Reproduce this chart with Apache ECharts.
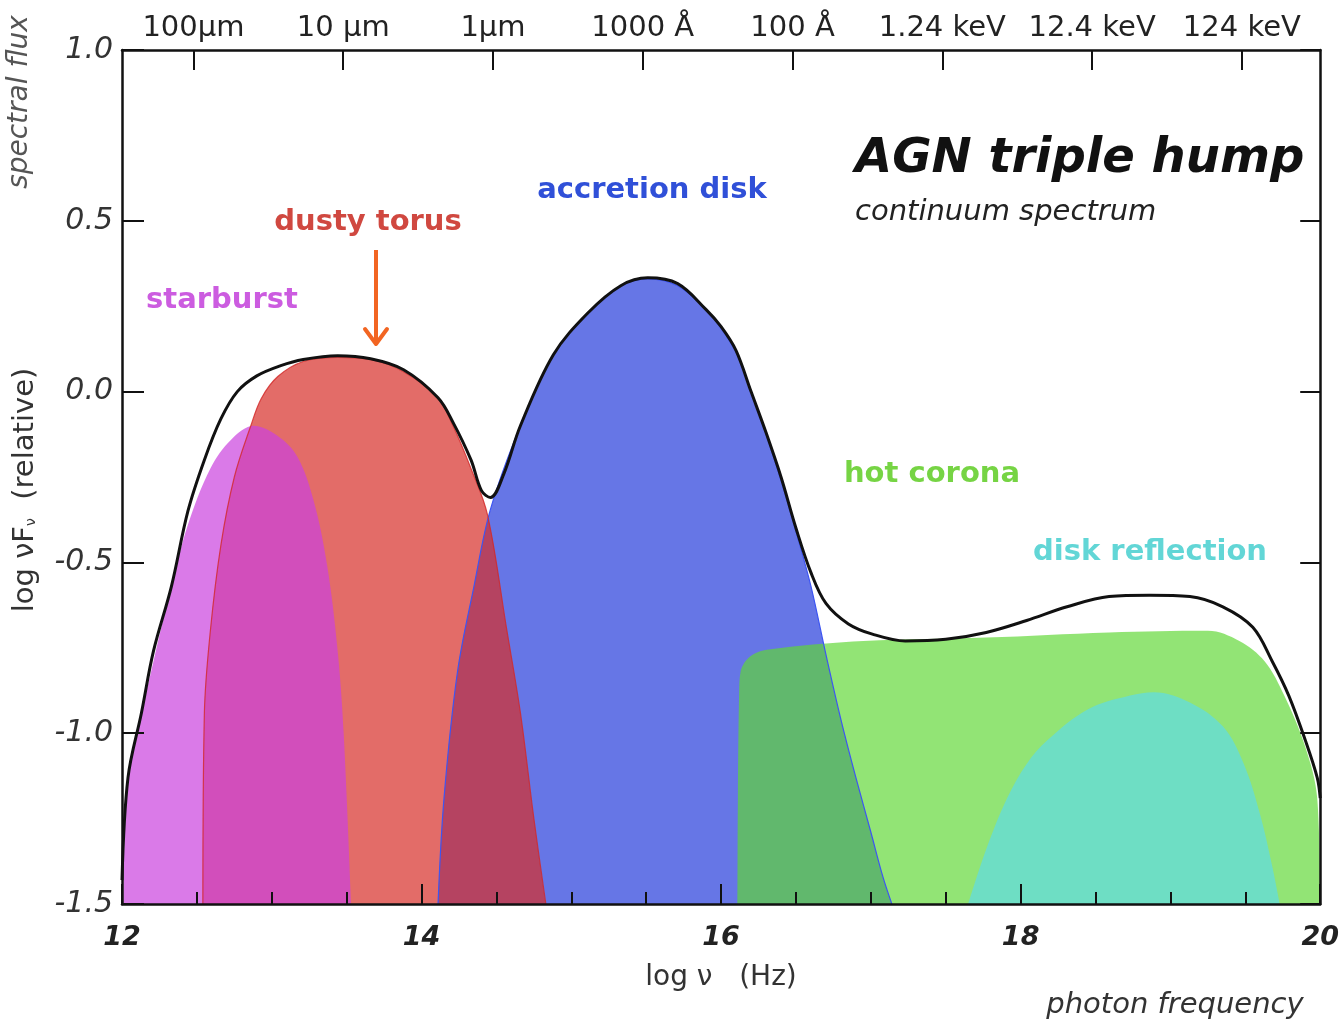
<!DOCTYPE html>
<html>
<head>
<meta charset="utf-8">
<title>AGN triple hump</title>
<script src="https://cdn.jsdelivr.net/npm/echarts@6/dist/echarts.min.js"></script>
<style>
  html, body { margin: 0; padding: 0; background: #fff; }
  #main { width: 1342px; height: 1023px; }
</style>
</head>
<body>
<div id="main"></div>
<script>
// components of the AGN spectrum (log nu, log nuFnu)
var starburstX = [12.01, 12.04, 12.21, 12.33, 12.44, 12.59, 12.73, 12.88, 13.04, 13.17, 13.28, 13.37, 13.44, 13.48, 13.53];
var starburstY = [-1.5, -1.14, -0.79, -0.57, -0.39, -0.225, -0.14, -0.10, -0.13, -0.19, -0.32, -0.51, -0.76, -1.0, -1.5];

var torusX = [12.54, 12.55, 12.59, 12.66, 12.75, 12.86, 12.93, 13.04, 13.21, 13.44, 13.66, 13.88, 14.11, 14.21, 14.33, 14.44, 14.57, 14.66, 14.75, 14.83];
var torusY = [-1.5, -0.94, -0.70, -0.45, -0.25, -0.10, -0.02, 0.044, 0.088, 0.10, 0.094, 0.058, -0.018, -0.10, -0.225, -0.36, -0.70, -0.94, -1.25, -1.5];

var diskX = [14.11, 14.15, 14.24, 14.35, 14.46, 14.66, 14.88, 15.11, 15.33, 15.51, 15.71, 15.9, 16.0, 16.1, 16.2, 16.3, 16.4, 16.5, 16.6, 16.7, 16.8, 16.9, 17.0, 17.08, 17.14];
var diskY = [-1.5, -1.19, -0.82, -0.57, -0.345, -0.10, 0.108, 0.23, 0.31, 0.33, 0.31, 0.24, 0.185, 0.115, 0.0, -0.125, -0.26, -0.41, -0.57, -0.77, -0.96, -1.13, -1.29, -1.42, -1.5];

var coronaX = [16.11, 16.112, 16.12, 16.13, 16.21, 16.41, 16.95, 17.77, 18.59, 19.25, 19.46, 19.63, 19.76, 19.90, 19.98, 20.0];
var coronaY = [-1.5, -1.19, -0.89, -0.82, -0.77, -0.75, -0.73, -0.72, -0.705, -0.70, -0.73, -0.79, -0.89, -1.04, -1.19, -1.5];

var reflectX = [17.65, 17.77, 17.91, 18.04, 18.18, 18.45, 18.73, 18.89, 19.13, 19.35, 19.49, 19.60, 19.68, 19.73];
var reflectY = [-1.5, -1.34, -1.19, -1.09, -1.02, -0.93, -0.89, -0.88, -0.91, -0.98, -1.09, -1.24, -1.39, -1.5];

var totalX = [12.0, 12.04, 12.13, 12.21, 12.33, 12.44, 12.55, 12.66, 12.77, 12.9, 13.06, 13.21, 13.44, 13.66, 13.88, 14.11, 14.21, 14.33, 14.40, 14.46, 14.55, 14.66, 14.88, 15.11, 15.33, 15.51, 15.71, 15.9, 16.0, 16.1, 16.2, 16.3, 16.4, 16.5, 16.6, 16.7, 16.85, 17.01, 17.23, 17.50, 17.77, 18.04, 18.31, 18.59, 18.86, 19.13, 19.35, 19.55, 19.68, 19.79, 19.90, 19.98, 20.0];
var totalY = [-1.43, -1.13, -0.94, -0.76, -0.57, -0.35, -0.20, -0.08, 0.0, 0.046, 0.076, 0.094, 0.105, 0.096, 0.064, -0.018, -0.09, -0.20, -0.29, -0.31, -0.24, -0.10, 0.108, 0.23, 0.31, 0.333, 0.316, 0.24, 0.19, 0.12, 0.0, -0.12, -0.25, -0.40, -0.53, -0.62, -0.68, -0.71, -0.73, -0.725, -0.705, -0.67, -0.63, -0.60, -0.596, -0.60, -0.63, -0.69, -0.79, -0.89, -1.02, -1.13, -1.19];

// wavelength / energy scale along the top
var topTickVals = [12.477, 13.477, 14.477, 15.477, 16.477, 17.477, 18.477, 19.477];
var topTickLabels = ['100\u00b5m', '10 \u00b5m', '1\u00b5m', '1000 \u00c5', '100 \u00c5', '1.24 keV', '12.4 keV', '124 keV'];

function pairs(xs, ys) {
  var out = [];
  for (var i = 0; i < xs.length; i++) out.push([xs[i], ys[i]]);
  return out;
}

var font = '"DejaVu Sans", Verdana, sans-serif';

function band(name, xs, ys, fill, edge) {
  return {
    name: name,
    type: 'line',
    data: pairs(xs, ys),
    smooth: 0.35,
    symbol: 'none',
    silent: true,
    lineStyle: { width: edge ? 1.2 : 0, color: edge || fill },
    areaStyle: { color: fill, opacity: 1, origin: 'start' }
  };
}

var chart = echarts.init(document.getElementById('main'));

var option = {
  backgroundColor: '#ffffff',
  animation: false,
  grid: { left: 122, right: 19, top: 50, bottom: 119 },
  xAxis: [{
    type: 'value',
    zlevel: 1,
    min: 12, max: 20, interval: 2,
    axisLine: { onZero: false, lineStyle: { color: '#111', width: 2.5 } },
    axisTick: { inside: true, length: 20, lineStyle: { color: '#111', width: 2 } },
    minorTick: { show: true, splitNumber: 4, length: 12, lineStyle: { color: '#111', width: 2 } },
    splitLine: { show: false },
    axisLabel: { color: '#222', fontSize: 27, fontWeight: 'bold', fontStyle: 'italic', fontFamily: font, margin: 20 }
  }, {
    type: 'value',
    position: 'top',
    zlevel: 1,
    min: 12, max: 20,
    axisLine: { onZero: false, lineStyle: { color: '#111', width: 2.5 } },
    axisTick: { inside: true, length: 20, customValues: topTickVals, lineStyle: { color: '#111', width: 2 } },
    splitLine: { show: false },
    axisLabel: {
      customValues: topTickVals,
      color: '#222', fontSize: 29, fontFamily: font, margin: 7,
      formatter: function (v) {
        var i = topTickVals.indexOf(v);
        return i >= 0 ? topTickLabels[i] : '';
      }
    }
  }],
  yAxis: [{
    type: 'value',
    zlevel: 1,
    min: -1.5, max: 1.0, interval: 0.5,
    axisLine: { show: true, onZero: false, lineStyle: { color: '#111', width: 2.5 } },
    axisTick: { show: true, inside: true, length: 22, lineStyle: { color: '#111', width: 2 } },
    splitLine: { show: false },
    axisLabel: {
      color: '#333', fontSize: 30, fontStyle: 'italic', fontFamily: font, margin: 9,
      formatter: function (v) { return v.toFixed(1); }
    }
  }, {
    type: 'value',
    position: 'right',
    zlevel: 1,
    min: -1.5, max: 1.0, interval: 0.5,
    axisLine: { show: true, onZero: false, lineStyle: { color: '#111', width: 2.5 } },
    axisTick: { show: true, inside: true, length: 20, lineStyle: { color: '#111', width: 2 } },
    splitLine: { show: false },
    axisLabel: { show: false }
  }],
  series: [
    band('accretion disk', diskX, diskY, 'rgb(102,118,230)', '#3d55f2'),
    band('dusty torus', torusX, torusY, 'rgba(215,45,40,0.7)', 'rgba(210,40,40,0.8)'),
    band('starburst', starburstX, starburstY, 'rgba(202,65,222,0.7)', null),
    band('hot corona', coronaX, coronaY, 'rgba(95,215,51,0.68)', null),
    band('disk reflection', reflectX, reflectY, 'rgba(95,219,229,0.7)', null),
    {
      name: 'total',
      type: 'line',
      data: pairs(totalX, totalY),
      smooth: 0.35,
      symbol: 'none',
      silent: true,
      lineStyle: { color: '#111', width: 3 }
    }
  ],
  graphic: [
    { type: 'text', x: 20, y: 102, rotation: Math.PI / 2,
      style: { text: 'spectral flux', font: 'italic 28px ' + font, fill: '#555', align: 'center', verticalAlign: 'middle' } },
    { type: 'text', x: 25, y: 490, rotation: Math.PI / 2,
      style: {
        text: '{a|log \u03bd}{b|F}{s|\u03bd}{a|  (relative)}',
        align: 'center', verticalAlign: 'middle',
        rich: {
          a: { font: '29px ' + font, fill: '#333' },
          b: { font: '29px ' + font, fill: '#333' },
          s: { font: '14px ' + font, fill: '#333', padding: [12, 0, 0, 0] }
        }
      } },
    { type: 'text', x: 721, y: 978,
      style: { text: 'log \u03bd   (Hz)', font: '28px ' + font, fill: '#333', align: 'center', verticalAlign: 'middle' } },
    { type: 'text', x: 1175, y: 1005,
      style: { text: 'photon frequency', font: 'italic 29px ' + font, fill: '#333', align: 'center', verticalAlign: 'middle' } },
    { type: 'text', x: 855, y: 160,
      style: { text: 'AGN triple hump', font: 'italic bold 48px ' + font, fill: '#111', align: 'left', verticalAlign: 'middle' } },
    { type: 'text', x: 855, y: 212,
      style: { text: 'continuum spectrum', font: 'italic 29px ' + font, fill: '#222', align: 'left', verticalAlign: 'middle' } },
    { type: 'text', x: 652, y: 190,
      style: { text: 'accretion disk', font: 'bold 29px ' + font, fill: '#3050d8', align: 'center', verticalAlign: 'middle' } },
    { type: 'text', x: 368, y: 222,
      style: { text: 'dusty torus', font: 'bold 29px ' + font, fill: '#d04840', align: 'center', verticalAlign: 'middle' } },
    { type: 'text', x: 222, y: 300,
      style: { text: 'starburst', font: 'bold 29px ' + font, fill: '#cc5ce0', align: 'center', verticalAlign: 'middle' } },
    { type: 'text', x: 932, y: 474,
      style: { text: 'hot corona', font: 'bold 29px ' + font, fill: '#76d444', align: 'center', verticalAlign: 'middle' } },
    { type: 'text', x: 1150, y: 552,
      style: { text: 'disk reflection', font: 'bold 29px ' + font, fill: '#62d6d6', align: 'center', verticalAlign: 'middle' } },
    // orange arrow pointing at the torus hump
    { type: 'line', shape: { x1: 376, y1: 250, x2: 376, y2: 344 },
      style: { stroke: '#f26522', lineWidth: 4 } },
    { type: 'polyline', shape: { points: [[365, 329], [376, 344], [387, 329]] },
      style: { stroke: '#f26522', lineWidth: 4, fill: null, lineCap: 'round', lineJoin: 'round' } }
  ]
};

chart.setOption(option);
</script>
</body>
</html>
